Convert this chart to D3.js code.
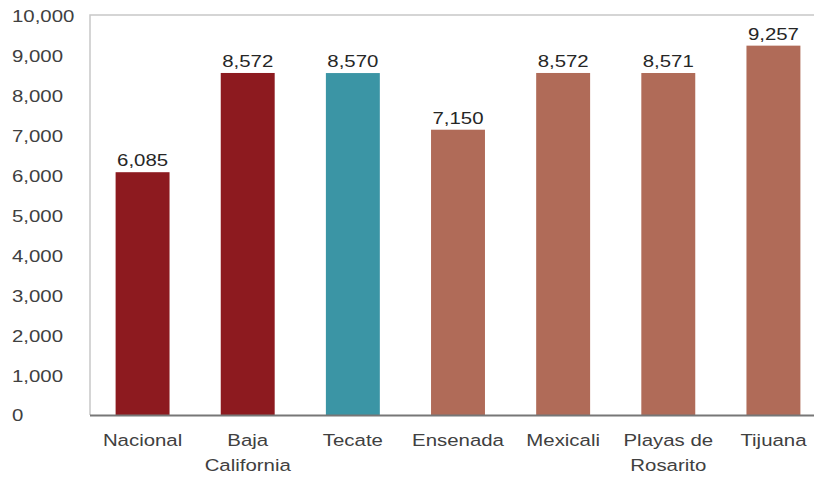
<!DOCTYPE html>
<html><head><meta charset="utf-8">
<script src="https://cdn.jsdelivr.net/npm/d3@7"></script>
<style>body{margin:0;background:#fff;}svg{display:block;font-family:"Liberation Sans",Arial,sans-serif;}</style>
</head><body><svg id="c" width="814" height="478"></svg>
<script>
const categories = [["Nacional"],["Baja","California"],["Tecate"],["Ensenada"],["Mexicali"],["Playas de","Rosarito"],["Tijuana"]];
const values = [6085, 8572, 8570, 7150, 8572, 8571, 9257];
const colors = ["#8d1a1f","#8d1a1f","#3b95a5","#b06b58","#b06b58","#b06b58","#b06b58"];
const yTicks = [0,1000,2000,3000,4000,5000,6000,7000,8000,9000,10000];

const svg = d3.select("#c");
const mLeft = 90, mRight = 826, mTop = 16, mBottom = 415;
const FS = 17, SX = 1.2;
const x = d3.scaleBand().domain(d3.range(values.length)).range([mLeft, mRight]).paddingInner(0.487).paddingOuter(0.2435);
const y = d3.scaleLinear().domain([0, 10000]).range([mBottom, mTop]);
const fmt = d3.format(",");

// frame
svg.append("path").attr("d", `M${mLeft},${mBottom} V${mTop-1} H${mRight+20}`).attr("fill","none").attr("stroke","#c8c8c8").attr("stroke-width",1.5);

// bars
svg.selectAll("rect.bar").data(values).join("rect")
  .attr("x",(d,i)=>x(i)).attr("width",x.bandwidth())
  .attr("y",d=>y(d)).attr("height",d=>mBottom-y(d))
  .attr("fill",(d,i)=>colors[i]);

// x axis line
svg.append("line").attr("x1",mLeft).attr("x2",mRight+20).attr("y1",mBottom+0.5).attr("y2",mBottom+0.5).attr("stroke","#777").attr("stroke-width",2);

// y axis (left-aligned labels)
const yAxis = d3.axisLeft(y).tickValues(yTicks).tickFormat(fmt).tickSize(0).tickPadding(0);
const ga = svg.append("g").attr("transform",`translate(12,0)`).call(yAxis);
ga.select(".domain").remove();
ga.selectAll("text").attr("font-size",FS).attr("fill","#404040")
  .attr("font-family","Liberation Sans, Arial, sans-serif")
  .attr("text-anchor","start").attr("x",0).attr("dy","0.35em")
  .attr("transform",`scale(${SX},1)`);

// value labels
svg.selectAll("text.val").data(values).join("text")
  .attr("transform",(d,i)=>`translate(${x(i)+x.bandwidth()/2},${y(d)-6}) scale(${SX},1)`)
  .attr("text-anchor","middle").attr("font-size",FS).attr("fill","#262626").text(d=>fmt(d));

// category labels
const cat = svg.selectAll("g.cat").data(categories).join("g")
  .attr("transform",(d,i)=>`translate(${x(i)+x.bandwidth()/2},0) scale(${SX},1)`);
cat.each(function(lines){
  d3.select(this).append("text").attr("text-anchor","middle").attr("font-size",FS).attr("fill","#404040")
    .selectAll("tspan").data(lines).join("tspan")
    .attr("x",0).attr("y",(l,j)=>446+j*25).text(l=>l);
});
</script></body></html>
